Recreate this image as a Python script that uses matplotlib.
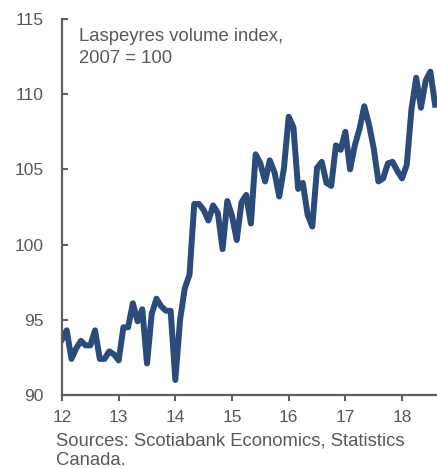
import matplotlib.pyplot as plt
import numpy as np

plt.rcParams['font.family'] = ['Liberation Sans', 'DejaVu Sans']

# monthly index, Jan 2012 - Aug 2018
values_2012 = [93.7, 94.3, 92.4, 93.1, 93.6, 93.3, 93.3, 94.3, 92.4, 92.4, 92.9, 92.7]
values_2013 = [92.3, 94.5, 94.5, 96.1, 94.9, 95.7, 92.1, 95.4, 96.4, 95.9, 95.6, 95.6]
values_2014 = [91.0, 95.0, 97.1, 98.0, 102.7, 102.7, 102.3, 101.6, 102.6, 102.1, 99.7, 102.9]
values_2015 = [101.9, 100.3, 102.8, 103.3, 101.4, 106.0, 105.4, 104.2, 105.6, 104.8, 103.2, 105.1]
values_2016 = [108.5, 107.8, 103.7, 104.1, 102.0, 101.2, 105.1, 105.5, 104.1, 103.9, 106.6, 106.3]
values_2017 = [107.5, 105.0, 106.6, 107.7, 109.2, 108.0, 106.4, 104.2, 104.4, 105.4, 105.5, 104.9]
values_2018 = [104.4, 105.3, 109.0, 111.1, 109.1, 110.9, 111.5, 109.3]

y_vals = values_2012 + values_2013 + values_2014 + values_2015 + values_2016 + values_2017 + values_2018
x_vals = 12 + np.arange(len(y_vals)) / 12.0

year_ticks = [12, 13, 14, 15, 16, 17, 18]
y_ticks = [90, 95, 100, 105, 110, 115]

grey = '#595959'
line_color = '#2b4b7b'

fig = plt.figure(figsize=(4.37, 4.69), dpi=100)
ax = fig.add_axes([0.1419, 0.1578, 0.8581, 0.8017])

ax.plot(x_vals, y_vals, color=line_color, linewidth=4.3, solid_joinstyle='round')

ax.set_xlim(12, 18.617)
ax.set_ylim(90, 115)
ax.set_xticks(year_ticks)
ax.set_yticks(y_ticks)

for s in ['top', 'right']:
    ax.spines[s].set_visible(False)
for s in ['left', 'bottom']:
    ax.spines[s].set_color('#5f5f5f')
    ax.spines[s].set_linewidth(1.6)

ax.tick_params(axis='x', direction='out', length=4, width=1.5, color='#5f5f5f',
               labelsize=12.5, labelcolor=grey, pad=7)
ax.tick_params(axis='y', direction='in', length=4, width=1.5, color='#5f5f5f',
               labelsize=12.5, labelcolor=grey, pad=13)

ax.text(79 / 437, 1 - 28 / 469, "Laspeyres volume index,\n2007 = 100", transform=fig.transFigure,
        ha='left', va='top', fontsize=13.3, color=grey, linespacing=1.35)

fig.text(56 / 437, 1 - 432 / 469, "Sources: Scotiabank Economics, Statistics\nCanada.",
         ha='left', va='top', fontsize=13.3, color=grey, linespacing=1.25)

plt.savefig('out.png', dpi=100)
